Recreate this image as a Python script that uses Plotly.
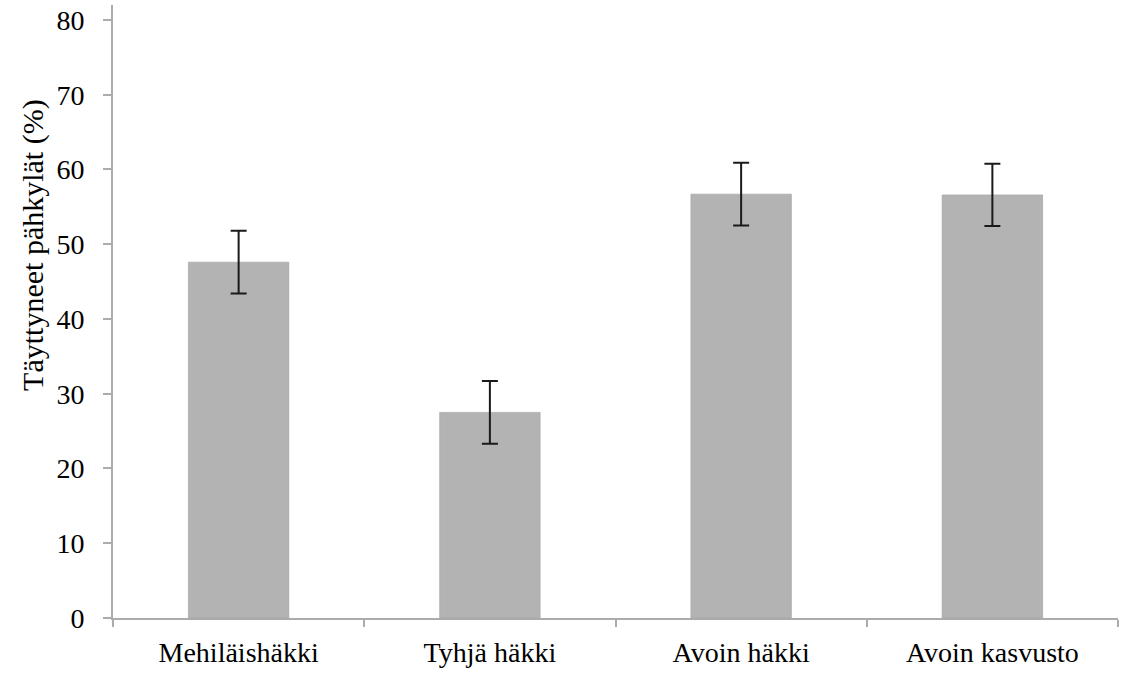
import plotly.graph_objects as go

categories = ["Mehiläishäkki", "Tyhjä häkki", "Avoin häkki", "Avoin kasvusto"]
values = [47.6, 27.5, 56.7, 56.6]
errors = [4.2, 4.2, 4.2, 4.15]
y_ticks = [0, 10, 20, 30, 40, 50, 60, 70, 80]
y_title = "Täyttyneet pähkylät (%)"

FONT = "Liberation Serif, Times New Roman, serif"
AXIS_COLOR = "#ababab"

fig = go.Figure()
fig.add_trace(go.Bar(
    x=categories,
    y=values,
    width=0.4,
    marker=dict(color="#b3b3b3", line=dict(color="rgba(160,160,160,0.6)", width=1)),
    error_y=dict(type="data", array=errors, visible=True,
                 color="#1a1a1a", thickness=2, width=8),
))

fig.update_layout(
    width=1125, height=674,
    margin=dict(l=113, r=7, t=5, b=56, autoexpand=False),
    paper_bgcolor="white", plot_bgcolor="white",
    showlegend=False,
    font=dict(family=FONT, size=28, color="#000000"),
    bargap=0.6,
)
fig.update_xaxes(
    type="category",
    showline=True, linecolor=AXIS_COLOR, linewidth=2,
    ticks="outside", tickson="boundaries", ticklen=7, tickcolor=AXIS_COLOR, tickwidth=2,
    showgrid=False, zeroline=False,
    tickfont=dict(family=FONT, size=28, color="#000000"),
    ticklabelstandoff=8,
    automargin=False,
)
fig.update_yaxes(
    range=[0, 82],
    tickvals=y_ticks,
    showline=True, linecolor=AXIS_COLOR, linewidth=2,
    ticks="outside", ticklen=8, tickcolor=AXIS_COLOR, tickwidth=2,
    showgrid=False, zeroline=False,
    tickfont=dict(family=FONT, size=28, color="#000000"),
    ticklabelstandoff=13,
    automargin=False,
)
fig.add_annotation(
    text=y_title, textangle=-90,
    xref="paper", yref="paper", x=-0.079, y=0.608,
    xanchor="center", yanchor="middle", showarrow=False,
    font=dict(family=FONT, size=30, color="#000000"),
)

fig.write_html("out.html")
